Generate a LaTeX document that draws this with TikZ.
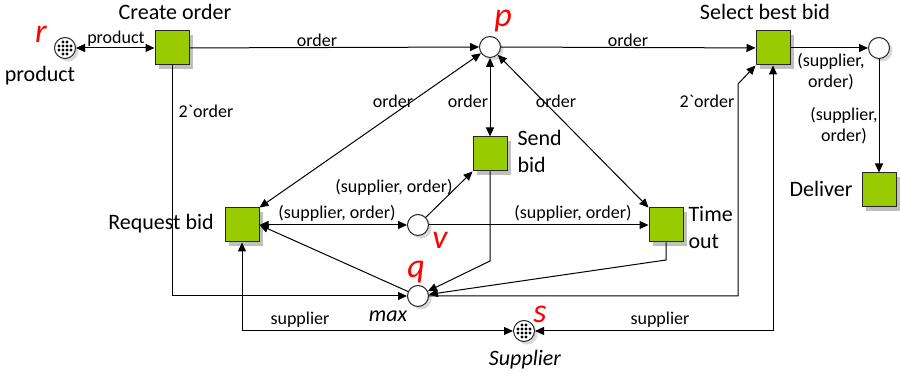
\documentclass[tikz,border=0pt]{standalone}
\usepackage{fontspec}
\setmainfont{Carlito}[Ligatures=TeXOff]
\usepackage{tikz}
\usetikzlibrary{arrows.meta,shadows}
\definecolor{transgreen}{HTML}{99CC00}

\begin{document}
\begin{tikzpicture}[x=0.5pt,y=-0.5pt,
      >={Triangle[length=4.5pt,width=4pt]},
      every path/.style={line width=0.5pt},
      trans/.style={rectangle,draw=black!85,fill=transgreen,minimum size=17pt,inner sep=0pt,
        drop shadow={shadow xshift=2pt,shadow yshift=-2pt,fill=black!25,opacity=1}},
      place/.style={circle,draw=black!85,fill=white,minimum size=10.5pt,inner sep=0pt,
        drop shadow={shadow xshift=1.5pt,shadow yshift=-1.5pt,fill=black!15,opacity=1}},
      inscr/.style={font=\fontsize{9}{10.5}\selectfont,inner sep=0pt,align=center},
      tlabel/.style={font=\fontsize{11}{13.5}\selectfont,inner sep=0pt},
      pname/.style={font=\fontsize{17}{17}\selectfont\itshape,text=red,inner sep=0pt}]
  \useasboundingbox (0,0) rectangle (900,378);

  \node[place] (r) at (65,48) {};
  \node[trans] (co) at (172,48) {};
  \node[place] (p) at (490,47) {};
  \node[trans] (sbb) at (773,48) {};
  \node[place] (out) at (879,48) {};
  \node[trans] (del) at (879,190) {};
  \node[trans] (sb) at (490,154) {};
  \node[trans] (rb) at (242,225) {};
  \node[place] (v) at (418,225) {};
  \node[trans] (tout) at (666,225) {};
  \node[place] (q) at (418,296) {};
  \node[place] (s) at (524,331) {};

  \foreach \pl in {r,s}
    \foreach \i/\j in {-2/-6,2/-6,-6/-2,-2/-2,2/-2,6/-2,-6/2,-2/2,2/2,6/2,-2/6,2/6}
      \fill (\pl) ++(\i,\j) circle[radius=0.85pt];

  \coordinate (qk) at (738,84);
  \coordinate (sbk) at (490,261);
  \coordinate (tok) at (666,260);

  \draw[<->] (r) -- (co);
  \draw[->] (co) -- (p);
  \draw[->] (p) -- (sbb);
  \draw[->] (sbb) -- (out);
  \draw[->] (out) -- (del);
  \draw[->] (co) |- (q);
  \draw[->] (q) -| (qk) -- (sbb.south west);
  \draw[<->] (rb) |- (s);
  \draw[<->] (sbb) |- (s);
  \draw[<->] (p) -- (rb.north east);
  \draw[<->] (p) -- (sb);
  \draw[<->] (p) -- (tout.north west);
  \draw[<->] (rb) -- (v);
  \draw[->] (v) -- (sb.south west);
  \draw[->] (v) -- (tout);
  \draw[->] (q) -- (rb.east);
  \draw[->] (sb) -- (sbk) -- (q);
  \draw[->] (tout) -- (tok) -- (q);

  \node[tlabel] (co-l) at (175,12) {Create order};
  \node[tlabel] (sbb-l) at (765,12) {Select best bid};
  \node[tlabel] (r-l) at (40,76) {product};
  \node[tlabel] (del-l) at (821,189) {Deliver};
  \node[tlabel] (rb-l) at (161,224) {Request bid};
  \node[tlabel,anchor=west,align=left] (sb-l) at (517,151) {Send\\bid};
  \node[tlabel,anchor=west,align=left] (tout-l) at (688,228) {Time\\out};
  \node[tlabel,font=\fontsize{11}{13.5}\selectfont\itshape] (q-l) at (388,316) {max};
  \node[tlabel,font=\fontsize{11}{13.5}\selectfont\itshape] (s-l) at (525,360) {Supplier};

  \node[pname] (r-n) at (41,34) {r};
  \node[pname] (p-n) at (503,21) {p};
  \node[pname] (v-n) at (440,240) {v};
  \node[pname] (q-n) at (416,272) {q};
  \node[pname] (s-n) at (540,314) {s};

  \node[inscr] (a1) at (116,39) {product};
  \node[inscr] (a2) at (317,40) {order};
  \node[inscr] (a3) at (628,40) {order};
  \node[inscr] (a4) at (831,72) {(supplier,\\order)};
  \node[inscr] (a5) at (844,126) {(supplier,\\order)};
  \node[inscr] (a6) at (206,111) {2`order};
  \node[inscr] (a7) at (707,101) {2`order};
  \node[inscr] (a8) at (393,101) {order};
  \node[inscr] (a9) at (468,101) {order};
  \node[inscr] (a10) at (556,101) {order};
  \node[inscr] (a11) at (337,213) {(supplier, order)};
  \node[inscr] (a12) at (394,187) {(supplier, order)};
  \node[inscr] (a13) at (573,213) {(supplier, order)};
  \node[inscr] (a14) at (300,320) {supplier};
  \node[inscr] (a15) at (660,320) {supplier};
\end{tikzpicture}
\end{document}
